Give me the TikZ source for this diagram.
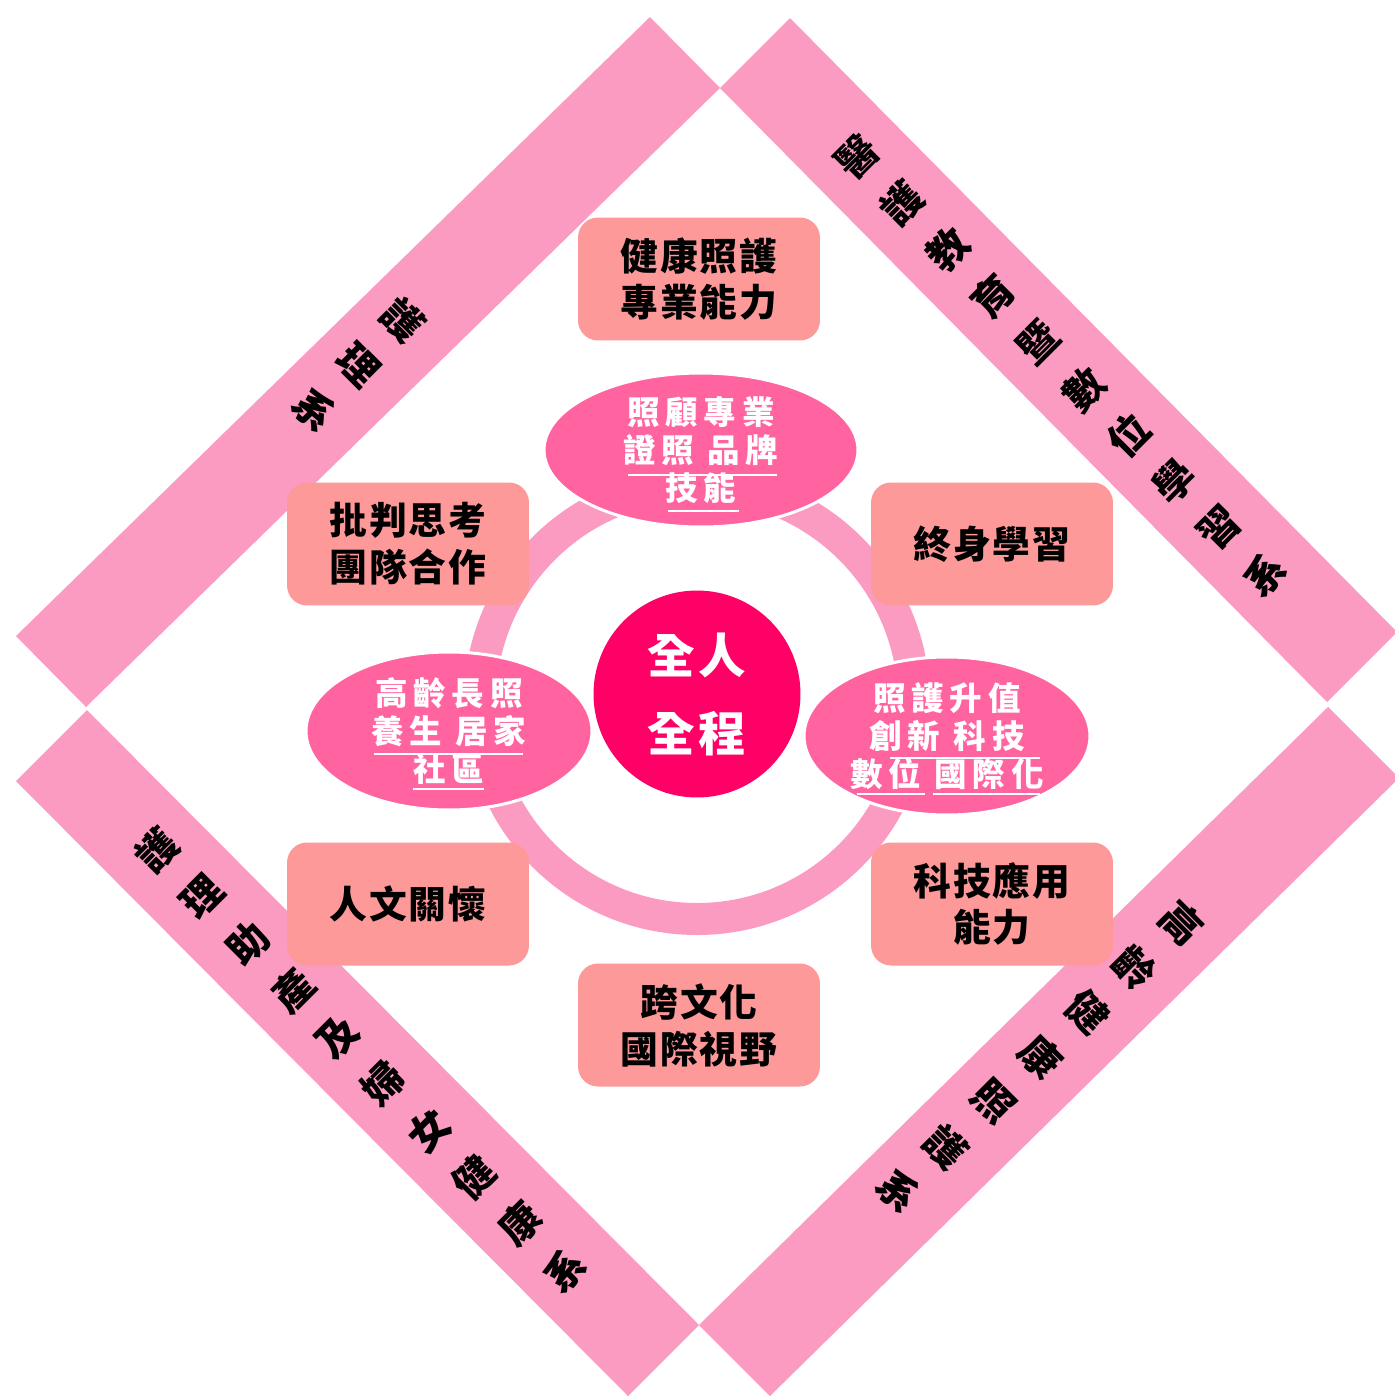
\documentclass[tikz,border=0pt]{standalone}
\usepackage{fontspec}
\usetikzlibrary{shapes.geometric}
\setmainfont{Noto Sans CJK TC}
\newfontfamily\boxfont[LetterSpace=5]{Noto Sans CJK TC}
\newfontfamily\ellfont[LetterSpace=18]{Noto Sans CJK TC}
\newfontfamily\corefont[LetterSpace=8]{Noto Sans CJK TC}
\newfontfamily\bandfont{Noto Sans CJK TC}
\definecolor{bandc}{RGB}{252,155,193}
\definecolor{ringc}{RGB}{252,155,193}
\definecolor{boxc}{RGB}{253,153,153}
\definecolor{ellc}{RGB}{255,100,160}
\definecolor{corec}{RGB}{255,0,102}
\tikzset{
  skillbox/.style={fill=boxc, rounded corners=0.4cm, minimum width=4.84cm, minimum height=2.46cm, inner sep=0pt},
  boxtext/.style={align=center, text=black, inner sep=0pt, font=\boxfont\bfseries\fontsize{21.5}{26.7}\selectfont},
  focus/.style={ellipse, fill=ellc, draw=white, line width=0.06cm, inner sep=0pt},
  focustext/.style={align=center, text=white, inner sep=0pt, font=\ellfont\bfseries\fontsize{18.5}{21.6}\selectfont},
  uline/.style={draw=white, line width=0.04cm},
  bandtext/.style={text=black, inner sep=0pt, font=\bandfont\bfseries\fontsize{23}{23}\selectfont},
}
\begin{document}
\begin{tikzpicture}[x=0.02cm,y=-0.02cm]
\useasboundingbox (0,0) rectangle (1395,1397);
\fill[white] (0,0) rectangle (1395,1397);
% four bands
\fill[bandc] (86,707) -- (720,88) -- (650,17) -- (16,636) -- cycle;
\fill[bandc] (720,88) -- (1327,702) -- (1397,632) -- (790,18) -- cycle;
\fill[bandc] (87,710) -- (699,1325) -- (628,1396) -- (16,781) -- cycle;
\fill[bandc] (1328,707) -- (699,1325) -- (770,1396) -- (1399,778) -- cycle;
% band texts
\foreach \c [count=\i from 0] in {護,理,系}
  \node[bandtext, rotate=-45] (ba\i) at ({403-\i*44},{320+\i*45}) {\c};
\foreach \c [count=\i from 0] in {醫,護,教,育,暨,數,位,學,習,系}
  \node[bandtext, rotate=45] (bb\i) at ({857+\i*45.3},{157+\i*46.4}) {\c};
\foreach \c [count=\i from 0] in {護,理,助,產,及,婦,女,健,康,系}
  \node[bandtext, rotate=45] (bc\i) at ({157+\i*45.3},{850+\i*46.7}) {\c};
\foreach \c [count=\i from 0] in {高,齡,健,康,照,護,系}
  \node[bandtext, rotate=-45] (bd\i) at ({1182-\i*47.2},{923+\i*44.7}) {\c};
% ring
\draw[ringc, line width=0.64cm] (697,702) circle [radius=217];
% skill boxes
\node[skillbox] (sa) at (699,279) {};
\node[boxtext] (sat) at (sa) {健康照護\\專業能力};
\node[skillbox] (sb) at (408,544) {};
\node[boxtext] (sbt) at (sb) {批判思考\\團隊合作};
\node[skillbox] (sc) at (992,544) {};
\node[boxtext] (sct) at (sc) {終身學習};
\node[skillbox] (sd) at (408,904) {};
\node[boxtext] (sdt) at (sd) {人文關懷};
\node[skillbox] (se) at (992,904) {};
\node[boxtext] (set) at (se) {科技應用\\能力};
\node[skillbox] (sf) at (699,1025) {};
\node[boxtext] (sft) at (sf) {跨文化\\國際視野};
% focus ellipses
\node[focus, minimum width=6.28cm, minimum height=3.08cm] (ea) at (701,450) {};
\node[focustext] (eat) at (ea) {照顧專業\\證照 品牌\\技能};
\node[focus, minimum width=5.72cm, minimum height=3.16cm] (eb) at (449,731) {};
\node[focustext] (ebt) at (eb) {高齡長照\\養生 居家\\社區};
\node[focus, minimum width=5.72cm, minimum height=3.16cm] (ec) at (947,736) {};
\node[focustext] (ect) at (ec) {照護升值\\創新 科技\\數位 國際化};
% underlines
\draw[uline] (628,475) -- (777,475);
\draw[uline] (668,511) -- (739,511);
\draw[uline] (374,754) -- (523,754);
\draw[uline] (413,789) -- (484,789);
\draw[uline] (890,758) -- (1040,758);
\draw[uline] (857,794) -- (925,794);
\draw[uline] (933,794) -- (1040,794);
% core
\node[circle, fill=corec, minimum size=4.14cm, inner sep=0pt] (core) at (697,694) {};
\node[align=center, text=white, inner sep=0pt, font=\corefont\bfseries\fontsize{27}{44.4}\selectfont] (coret) at (core) {全人\\全程};
\end{tikzpicture}
\end{document}
